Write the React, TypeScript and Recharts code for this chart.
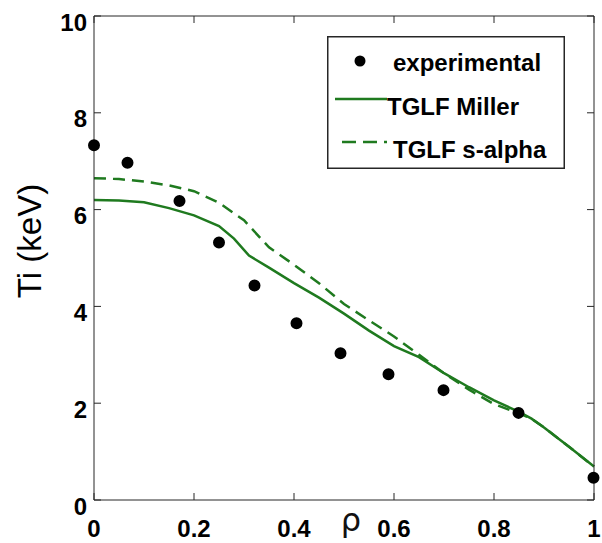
import { ComposedChart, Line, Scatter, XAxis, YAxis, ZAxis } from "recharts"

// experimental Ti profile
const expRho = [0, 0.067, 0.171, 0.25, 0.321, 0.405, 0.493, 0.589, 0.699, 0.849, 0.999]
const expTi = [7.33, 6.97, 6.18, 5.32, 4.43, 3.65, 3.03, 2.6, 2.27, 1.8, 0.46]

// TGLF Miller geometry
const millerRho = [0, 0.05, 0.1, 0.15, 0.2, 0.25, 0.28, 0.31, 0.35, 0.4, 0.45, 0.5, 0.55, 0.6, 0.65, 0.7, 0.75, 0.8, 0.85, 0.875, 0.9, 0.95, 1]
const millerTi = [6.2, 6.19, 6.15, 6.03, 5.88, 5.66, 5.4, 5.05, 4.8, 4.48, 4.18, 3.85, 3.5, 3.18, 2.95, 2.62, 2.33, 2.06, 1.82, 1.68, 1.5, 1.1, 0.69]

// TGLF s-alpha geometry
const salphaRho = [0, 0.05, 0.1, 0.15, 0.2, 0.25, 0.3, 0.35, 0.4, 0.45, 0.5, 0.55, 0.6, 0.65, 0.7, 0.75, 0.8, 0.85, 0.875, 0.9, 0.95, 1]
const salphaTi = [6.65, 6.63, 6.58, 6.5, 6.38, 6.14, 5.78, 5.22, 4.86, 4.48, 4.05, 3.71, 3.38, 3.0, 2.62, 2.28, 1.98, 1.79, 1.68, 1.5, 1.1, 0.69]

const xDomain = [0, 1]
const yDomain = [0, 10]
const tickCount = 6

const expData = expRho.map((rho, i) => ({ rho, ti: expTi[i] }))
const millerData = millerRho.map((rho, i) => ({ rho, ti: millerTi[i] }))
const salphaData = salphaRho.map((rho, i) => ({ rho, ti: salphaTi[i] }))

const GREEN = "#1f7a1f"
const AXIS = "#262626"
const FONT = "'Liberation Sans', Arial, sans-serif"

const labelProps = { fill: "#000", fontSize: 24, fontWeight: 700, fontFamily: FONT }
const fmt = (v: number) => String(Math.round(v * 10) / 10)
const blank = () => ""

// legend and rho label drawn as an overlay
const Overlay = () => (
  <svg width={602} height={543} style={{ position: "absolute", left: 0, top: 0, pointerEvents: "none" }}>
    <g transform="translate(327,36)">
      <rect x={0.75} y={0.75} width={236.5} height={131.5} fill="#fff" stroke={AXIS} strokeWidth={1.5} />
      <circle cx={33} cy={25} r={5.5} fill="#000" />
      <text x={66} y={35} {...labelProps}>experimental</text>
      <line x1={8} x2={60} y1={63} y2={63} stroke={GREEN} strokeWidth={2.5} />
      <text x={60} y={79} {...labelProps}>TGLF Miller</text>
      <line x1={15} x2={60} y1={106} y2={106} stroke={GREEN} strokeWidth={2.5} strokeDasharray="14 7" />
      <text x={66} y={122} {...labelProps}>TGLF s-alpha</text>
    </g>
    <text x={351} y={531} textAnchor="middle" fontSize={32} fill="#111" fontFamily="'DejaVu Sans', sans-serif">ρ</text>
  </svg>
)

export default function App() {
  return (
    <div style={{ position: "absolute", left: 0, top: 0, width: 602, height: 543, background: "#fff" }}>
      <ComposedChart width={602} height={543} margin={{ top: 8, right: 0, bottom: 0, left: 0 }}>
        <XAxis
          type="number"
          dataKey="rho"
          domain={xDomain}
          tickCount={tickCount}
          tickFormatter={fmt}
          height={43}
          stroke={AXIS}
          tickSize={-7}
          tickMargin={27}
          tick={labelProps}
        />
        <XAxis
          xAxisId="top"
          orientation="top"
          type="number"
          dataKey="rho"
          domain={xDomain}
          tickCount={tickCount}
          tickFormatter={blank}
          height={8}
          stroke={AXIS}
          tickSize={-7}
        />
        <YAxis
          type="number"
          domain={yDomain}
          tickCount={tickCount}
          tickFormatter={fmt}
          width={94}
          stroke={AXIS}
          tickSize={-7}
          tickMargin={14}
          tick={{ ...labelProps, dy: 6 }}
          label={{ value: "Ti (keV)", angle: -90, position: "center", dx: -18, dy: -17, fontSize: 33, fill: "#000", fontFamily: FONT }}
        />
        <YAxis
          yAxisId="right"
          orientation="right"
          type="number"
          domain={yDomain}
          tickCount={tickCount}
          tickFormatter={blank}
          width={8}
          stroke={AXIS}
          tickSize={-7}
        />
        <ZAxis range={[113, 113]} />
        <Line data={millerData} dataKey="ti" type="linear" stroke={GREEN} strokeWidth={2.5} dot={false} isAnimationActive={false} />
        <Line data={salphaData} dataKey="ti" xAxisId="top" yAxisId="right" type="linear" stroke={GREEN} strokeWidth={2.5} strokeDasharray="12 7" dot={false} isAnimationActive={false} />
        <Scatter data={expData} dataKey="ti" fill="#000" isAnimationActive={false} />
      </ComposedChart>
      <Overlay />
    </div>
  )
}
